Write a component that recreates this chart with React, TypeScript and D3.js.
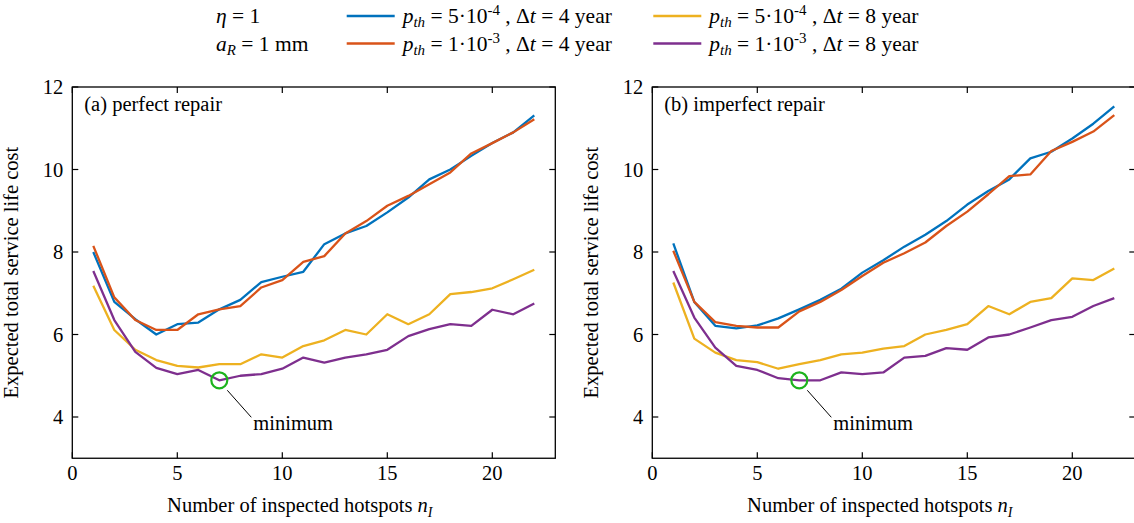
import React from "react";
import * as d3 from "d3";

const nValues = d3.range(1, 23);

const blueA = [8.0, 6.79, 6.37, 6.0, 6.25, 6.29, 6.61, 6.84, 7.27, 7.4, 7.52, 8.19, 8.45, 8.63, 8.96, 9.32, 9.76, 10.0, 10.33, 10.64, 10.9, 11.31];
const orangeA = [8.15, 6.9, 6.35, 6.11, 6.11, 6.49, 6.61, 6.69, 7.14, 7.32, 7.76, 7.9, 8.45, 8.75, 9.12, 9.36, 9.64, 9.93, 10.39, 10.64, 10.9, 11.22];
const yellowA = [7.18, 6.11, 5.63, 5.38, 5.24, 5.2, 5.28, 5.28, 5.52, 5.44, 5.72, 5.86, 6.11, 6.0, 6.49, 6.25, 6.49, 6.98, 7.03, 7.12, 7.34, 7.57];
const purpleA = [7.54, 6.35, 5.58, 5.19, 5.04, 5.14, 4.89, 5.0, 5.04, 5.17, 5.44, 5.32, 5.44, 5.52, 5.63, 5.96, 6.13, 6.25, 6.21, 6.6, 6.49, 6.75];

const blueB = [8.21, 6.79, 6.21, 6.15, 6.22, 6.39, 6.61, 6.84, 7.11, 7.5, 7.8, 8.13, 8.42, 8.75, 9.15, 9.48, 9.76, 10.27, 10.43, 10.75, 11.11, 11.53];
const orangeB = [8.03, 6.79, 6.3, 6.21, 6.17, 6.17, 6.56, 6.79, 7.08, 7.42, 7.74, 7.97, 8.23, 8.63, 8.98, 9.4, 9.84, 9.88, 10.45, 10.67, 10.92, 11.32];
const yellowB = [7.26, 5.9, 5.56, 5.38, 5.33, 5.17, 5.28, 5.38, 5.52, 5.56, 5.66, 5.72, 6.0, 6.11, 6.25, 6.69, 6.49, 6.79, 6.88, 7.36, 7.32, 7.6];
const purpleB = [7.54, 6.41, 5.68, 5.24, 5.14, 4.94, 4.89, 4.89, 5.08, 5.04, 5.08, 5.44, 5.48, 5.67, 5.63, 5.93, 6.0, 6.17, 6.35, 6.43, 6.69, 6.88];

const xTicks = [0, 5, 10, 15, 20];
const yTicks = [4, 6, 8, 10, 12];
const minimumA = { n: 7, v: 4.89 };
const minimumB = { n: 7, v: 4.89 };

const colors = ["#0072BD", "#D95319", "#EDB120", "#7E2F8E"];
const legendEntries = [
  { coef: "5", exp: "-4", dt: "4", color: colors[0], col: 0, row: 0 },
  { coef: "1", exp: "-3", dt: "4", color: colors[1], col: 0, row: 1 },
  { coef: "5", exp: "-4", dt: "8", color: colors[2], col: 1, row: 0 },
  { coef: "1", exp: "-3", dt: "8", color: colors[3], col: 1, row: 1 },
];

const W = 1134;
const H = 523;
const top = 87;
const bottom = 458.25;
const serif = "'Liberation Serif', 'Times New Roman', serif";
const legendFont = "'Liberation Serif', serif";

function Panel({ left, label, series, minimum }: any) {
  const x = d3.scaleLinear().domain([0, 23]).range([left, left + 483]);
  const y = d3.scaleLinear().domain([3, 12]).range([bottom, top]);
  const line = d3
    .line<number>()
    .x((_, i) => x(nValues[i]))
    .y((d) => y(d));
  const right = x(23);
  const tl = 6;
  const cx = x(minimum.n);
  const cy = y(minimum.v);
  return (
    <g>
      {series.map((s: number[], i: number) => (
        <path key={i} d={line(s) || ""} fill="none" stroke={colors[i]} strokeWidth={2.3} strokeLinejoin="round" />
      ))}
      <circle cx={cx} cy={cy} r={8} fill="none" stroke="#1db31d" strokeWidth={2.2} />
      <line x1={cx + 8} y1={cy + 10} x2={cx + 32} y2={cy + 37} stroke="#000" strokeWidth={1} />
      <text x={cx + 34} y={cy + 50} fontFamily={serif} fontSize={20.5}>minimum</text>
      <rect x={left} y={top} width={right - left} height={bottom - top} fill="none" stroke="#000" strokeWidth={1.3} />
      {xTicks.map((t) => (
        <g key={"x" + t}>
          <line x1={x(t)} x2={x(t)} y1={bottom} y2={bottom - tl} stroke="#000" strokeWidth={1.2} />
          <line x1={x(t)} x2={x(t)} y1={top} y2={top + tl} stroke="#000" strokeWidth={1.2} />
          <text x={x(t)} y={bottom + 22} textAnchor="middle" fontFamily={serif} fontSize={20.5}>{t}</text>
        </g>
      ))}
      {yTicks.map((t) => (
        <g key={"y" + t}>
          <line x1={left} x2={left + tl} y1={y(t)} y2={y(t)} stroke="#000" strokeWidth={1.2} />
          <line x1={right} x2={right - tl} y1={y(t)} y2={y(t)} stroke="#000" strokeWidth={1.2} />
          <text x={left - 9} y={y(t) + 7} textAnchor="end" fontFamily={serif} fontSize={20.5}>{t}</text>
        </g>
      ))}
      <text x={left + 12} y={top + 24} fontFamily={serif} fontSize={20.5}>{label}</text>
      <text x={(left + right) / 2 - 14} y={bottom + 54} textAnchor="middle" fontFamily={serif} fontSize={20.5}>
        Number of inspected hotspots <tspan fontStyle="italic">n</tspan>
        <tspan fontStyle="italic" fontSize={14} dy={5}>I</tspan>
      </text>
      <text
        transform={`translate(${left - 54},${(top + bottom) / 2}) rotate(-90)`}
        textAnchor="middle"
        fontFamily={serif}
        fontSize={20.5}
      >
        Expected total service life cost
      </text>
    </g>
  );
}

export default function App() {
  const lx = [346.7, 653.3];
  const rowY = [16, 43.5];
  return (
    <svg width={W} height={H} style={{ position: "absolute", left: 0, top: 0, background: "#fff" }}>
      <rect width={W} height={H} fill="#fff" />
      <g fontFamily={legendFont} fontSize={21.5}>
        <text x={216} y={rowY[0] + 7}>
          <tspan fontStyle="italic">η</tspan> = 1
        </text>
        <text x={216} y={rowY[1] + 7}>
          <tspan fontStyle="italic">a</tspan>
          <tspan fontStyle="italic" fontSize={15} dy={4}>R</tspan>
          <tspan dy={-4}> = 1 mm</tspan>
        </text>
        {legendEntries.map((e, i) => (
          <g key={i}>
            <line x1={lx[e.col]} x2={lx[e.col] + 48} y1={rowY[e.row]} y2={rowY[e.row]} stroke={e.color} strokeWidth={2.6} />
            <text x={lx[e.col] + 56} y={rowY[e.row] + 7}>
              <tspan fontStyle="italic">p</tspan>
              <tspan fontStyle="italic" fontSize={15} dy={4}>th</tspan>
              <tspan dy={-4}>{` = ${e.coef}·10`}</tspan>
              <tspan fontSize={15} dy={-8}>{e.exp}</tspan>
              <tspan dy={8}> , Δ</tspan>
              <tspan fontStyle="italic">t</tspan>
              <tspan>{` = ${e.dt} year`}</tspan>
            </text>
          </g>
        ))}
      </g>
      <Panel left={72.3} label="(a) perfect repair" series={[blueA, orangeA, yellowA, purpleA]} minimum={minimumA} />
      <Panel left={652.3} label="(b) imperfect repair" series={[blueB, orangeB, yellowB, purpleB]} minimum={minimumB} />
    </svg>
  );
}
